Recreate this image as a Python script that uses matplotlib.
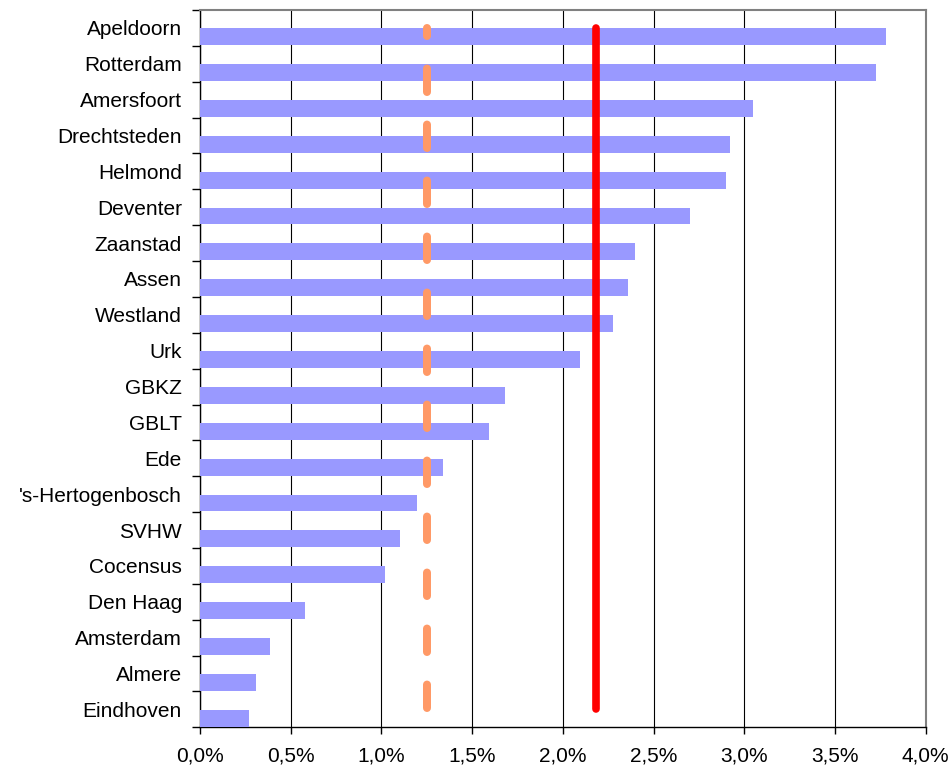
"""Horizontal bar chart: share per region with two reference lines."""

import matplotlib
matplotlib.use("Agg")
import matplotlib.pyplot as plt
from matplotlib.ticker import FixedLocator, FuncFormatter
import numpy as np

# ─── Data ────────────────────────────────────────────────────────────────────
regions = [
    "Apeldoorn", "Rotterdam", "Amersfoort", "Drechtsteden", "Helmond",
    "Deventer", "Zaanstad", "Assen", "Westland", "Urk", "GBKZ", "GBLT",
    "Ede", "'s-Hertogenbosch", "SVHW", "Cocensus", "Den Haag", "Amsterdam",
    "Almere", "Eindhoven",
]
values = [
    3.78, 3.725, 3.048, 2.924, 2.897, 2.70, 2.396, 2.359, 2.278, 2.092,
    1.681, 1.591, 1.341, 1.195, 1.105, 1.022, 0.580, 0.385, 0.308, 0.270,
]
average = 2.181      # solid red line
median = 1.249       # dashed orange line

BAR_COLOR = "#9999FF"
RED = "#FF0000"
ORANGE = "#FF9966"

plt.rcParams["font.family"] = ["Liberation Sans", "DejaVu Sans"]

fig = plt.figure(figsize=(9.53, 7.69), dpi=100)
ax = fig.add_axes([0.2099, 0.0542, 0.9713 - 0.2099, 0.987 - 0.0542])

y = np.arange(len(regions))

# bars sit in the lower half of each category band (Excel style)
ax.barh(y + 0.245, values, height=0.47, color=BAR_COLOR, zorder=3)

# reference lines run from first to last category centre
lw = 5.76  # 8 px
ax.plot([average, average], [y[0], y[-1]], color=RED, linewidth=5.5,
        solid_capstyle="round", zorder=4)
ax.plot([median, median], [y[0], y[-1]], color=ORANGE, linewidth=lw,
        linestyle=(1.93, (2.93, 4.07)), dash_capstyle="round", zorder=4)

ax.set_xlim(0, 4.0)
ax.set_ylim(len(regions) - 0.5, -0.5)

# x axis
ax.set_xticks(np.arange(0, 4.01, 0.5))
ax.xaxis.set_major_formatter(FuncFormatter(lambda v, _: f"{v:.1f}%".replace(".", ",")))
ax.tick_params(axis="x", length=5, width=1, direction="out", pad=9, labelsize=15)
ax.grid(axis="x", color="black", linewidth=0.8, zorder=0)

# y axis: ticks on band boundaries, labels at centres
ax.yaxis.set_major_locator(FixedLocator(np.arange(-0.5, len(regions), 1.0)))
ax.yaxis.set_major_formatter(FuncFormatter(lambda v, _: ""))
ax.yaxis.set_minor_locator(FixedLocator(y))
ax.set_yticklabels(regions, minor=True)
ax.tick_params(axis="y", which="major", length=6, width=1, direction="out")
ax.tick_params(axis="y", which="minor", length=0, pad=13, labelsize=15)

for side in ("left", "bottom"):
    ax.spines[side].set_color("black")
    ax.spines[side].set_linewidth(1.0)
for side in ("top", "right"):
    ax.spines[side].set_color("#808080")
    ax.spines[side].set_linewidth(1.5)

fig.savefig("out.png", dpi=100)
plt.close("all")
